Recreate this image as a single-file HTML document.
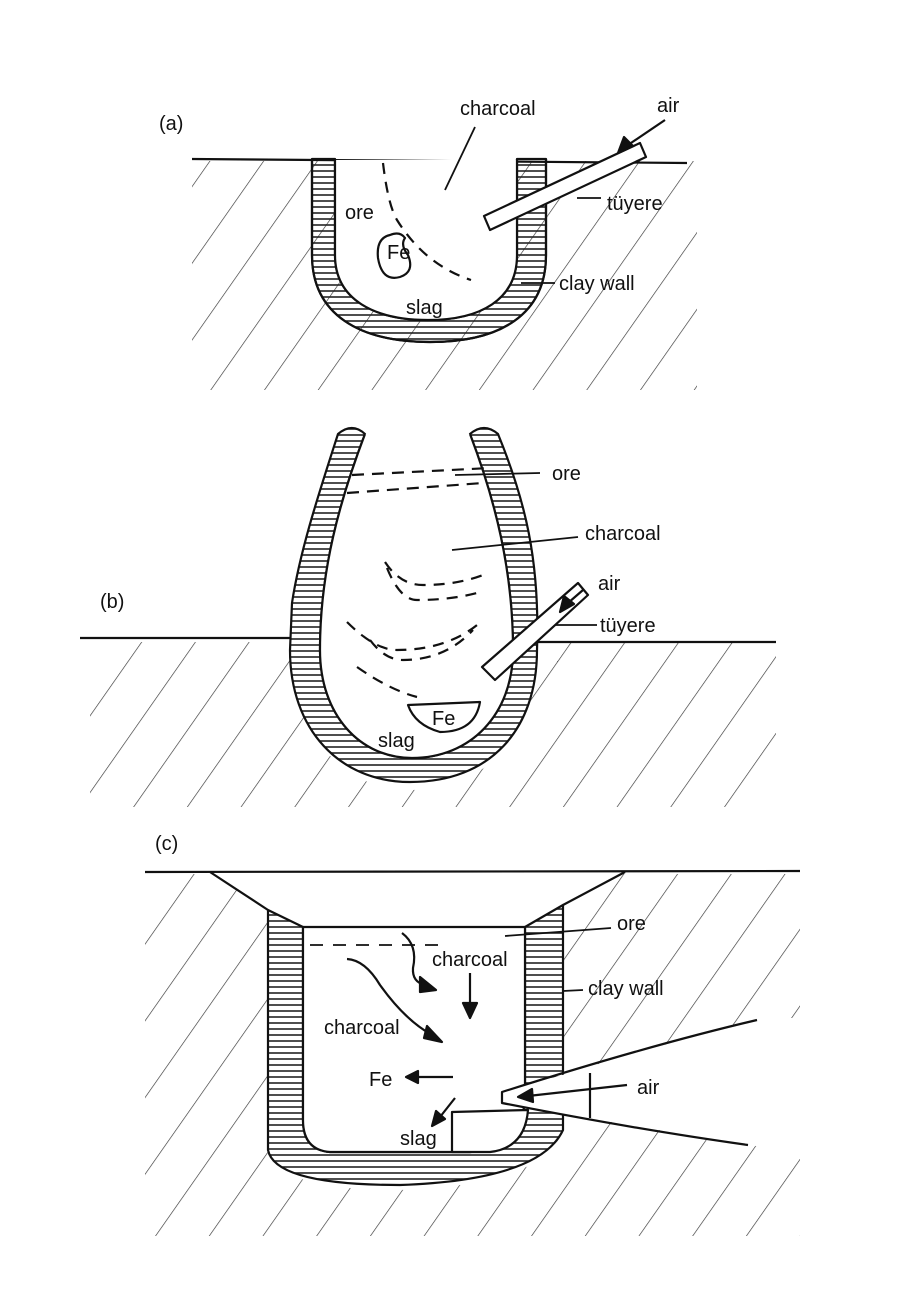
<!DOCTYPE html>
<html><head><meta charset="utf-8"><style>
html,body{margin:0;padding:0;background:#fff;}
svg{display:block}
text{font-family:"Liberation Sans",sans-serif;font-size:20px;fill:#111}
</style></head><body>
<svg width="900" height="1300" viewBox="0 0 900 1300" xmlns="http://www.w3.org/2000/svg">
<defs>
<pattern id="h" width="44" height="44" patternUnits="userSpaceOnUse" patternTransform="rotate(35)">
<line x1="0" y1="0" x2="0" y2="44" stroke="#333" stroke-width="1.3"/>
</pattern>
<pattern id="w" width="8" height="6" patternUnits="userSpaceOnUse">
<line x1="0" y1="3" x2="8" y2="3" stroke="#222" stroke-width="1.6"/>
</pattern>
</defs>
<g stroke="#111" stroke-width="2.2" fill="none" stroke-linejoin="round">

<!-- (a) -->
<rect x="192" y="161" width="505" height="229" fill="url(#h)" stroke="none"/>
<line x1="192" y1="159" x2="687" y2="163"/>
<path d="M312 159 L312 255 C312 315 360 342 430 342 C500 342 546 315 546 255 L546 159 L517 159 L517 255 C517 300 480 320 428 320 C375 320 335 300 335 255 L335 159Z" fill="url(#w)"/>
<path d="M335 160 L517 160 L517 255 C517 300 480 320 428 320 C375 320 335 300 335 255Z" fill="#fff" stroke="none"/>
<path d="M312 159 L312 255 C312 315 360 342 430 342 C500 342 546 315 546 255 L546 159 M517 159 L517 255 C517 300 480 320 428 320 C375 320 335 300 335 255 L335 159"/>
<path d="M484 216 L640 143 L646 157 L490 230Z" fill="#fff"/>
<line x1="665" y1="120" x2="628" y2="145"/>
<path d="M618 153 L624 137 L633 146Z" fill="#111"/>
<path d="M383 163 Q388 205 397 220 Q425 265 471 280" stroke-dasharray="11 8"/>
<path d="M390 235 Q376 238 378 258 Q382 282 400 277 Q415 272 408 255 Q400 245 405 238 Q400 231 390 235Z"/>
<line x1="475" y1="127" x2="445" y2="190" stroke-width="1.8"/>
<line x1="577" y1="198" x2="601" y2="198" stroke-width="1.8"/>
<line x1="521" y1="283" x2="555" y2="283" stroke-width="1.8"/>

<!-- (b) -->
<rect x="90" y="642" width="686" height="165" fill="url(#h)" stroke="none"/>
<path d="M290 640 C290 730 340 790 410 790 C490 790 540 730 537 640 Z" fill="#fff" stroke="none"/>
<line x1="80" y1="638" x2="291" y2="638"/>
<line x1="537" y1="642" x2="776" y2="642"/>
<path d="M338 434 C320 490 300 550 292 603 L290 650 C290 730 340 782 410 782 C490 782 537 730 537 650 C540 560 525 500 498 434 Q484 422 470 434 C495 500 513 570 513 650 C513 715 470 758 412 758 C360 758 320 715 320 650 C320 570 340 500 365 434 Q352 422 338 434Z" fill="url(#w)"/>
<path d="M470 434 C495 500 513 570 513 650 C513 715 470 758 412 758 C360 758 320 715 320 650 C320 570 340 500 365 434Z" fill="#fff" stroke="none"/>
<path d="M470 434 C495 500 513 570 513 650 C513 715 470 758 412 758 C360 758 320 715 320 650 C320 570 340 500 365 434"/>
<path d="M352 475 L490 468 M347 493 L483 483" stroke-dasharray="12 8"/>
<path d="M385 562 Q400 585 423 585 Q460 585 488 573 M387 568 Q400 600 417 600 Q450 600 477 593 M347 622 Q375 650 397 650 Q450 650 483 620 M370 640 Q385 660 403 660 Q445 660 473 630 M357 667 Q390 690 417 697" stroke-dasharray="11 8"/>
<path d="M482 667 L578 583 L588 595 L495 680Z" fill="#fff"/>
<line x1="583" y1="590" x2="568" y2="603"/>
<path d="M560 612 L564 596 L574 604Z" fill="#111"/>
<path d="M408 705 L480 702 Q475 732 440 732 Q415 725 408 705Z"/>
<line x1="455" y1="475" x2="540" y2="473" stroke-width="1.8"/>
<line x1="452" y1="550" x2="578" y2="537" stroke-width="1.8"/>
<line x1="555" y1="625" x2="597" y2="625" stroke-width="1.8"/>

<!-- (c) -->
<rect x="145" y="874" width="655" height="362" fill="url(#h)" stroke="none"/>
<path d="M210 872 L268 910 L268 1150 Q275 1190 400 1190 Q545 1185 563 1130 L563 905 L625 872Z" fill="#fff" stroke="none"/>
<path d="M502 1092 L757 1018 L805 1018 L805 1152 L748 1145 L510 1105Z" fill="#fff" stroke="none"/>
<line x1="145" y1="872" x2="800" y2="871"/>
<path d="M210 872 L268 910 M625 872 L563 905"/>
<path d="M268 910 L268 1150 Q275 1185 400 1185 Q540 1180 563 1130 L563 905 L525 927 L525 1100 Q520 1150 470 1152 L330 1152 Q303 1150 303 1120 L303 927 Z" fill="url(#w)"/>
<path d="M303 927 L525 927 L525 1100 Q520 1150 470 1152 L330 1152 Q303 1150 303 1120Z" fill="#fff"/>
<path d="M452 1112 L528 1110 Q525 1148 490 1152 L452 1152Z" fill="#fff"/>
<path d="M502 1092 L580 1070 L580 1118 L505 1104Z" fill="#fff" stroke="none"/>
<path d="M757 1020 Q650 1045 502 1092 L502 1103 Q640 1130 748 1145" />
<line x1="590" y1="1073" x2="590" y2="1118"/>
<path d="M310 945 L440 945" stroke-dasharray="13 10" stroke-width="1.8"/>
<line x1="505" y1="936" x2="611" y2="928" stroke-width="1.8"/>
<line x1="563" y1="991" x2="583" y2="990" stroke-width="1.8"/>
<line x1="627" y1="1085" x2="528" y2="1096"/>
<path d="M518 1097 L532 1089 L533 1102Z" fill="#111"/>
<path d="M402 933 Q418 945 413 968 Q412 982 425 985"/>
<path d="M420 977 L436 990 L420 992Z" fill="#111"/>
<line x1="470" y1="973" x2="470" y2="1005"/>
<path d="M463 1003 L477 1003 L470 1018Z" fill="#111"/>
<path d="M347 959 Q365 960 380 985 Q405 1020 432 1035"/>
<path d="M427 1026 L442 1042 L424 1038Z" fill="#111"/>
<line x1="453" y1="1077" x2="418" y2="1077"/>
<path d="M418 1071 L418 1083 L406 1077Z" fill="#111"/>
<line x1="455" y1="1098" x2="440" y2="1117"/>
<path d="M432 1126 L436 1111 L445 1119Z" fill="#111"/>
</g>
<text x="159" y="130">(a)</text>
<text x="460" y="115">charcoal</text>
<text x="657" y="112">air</text>
<text x="607" y="210">tüyere</text>
<text x="345" y="219">ore</text>
<text x="387" y="259" font-size="17">Fe</text>
<text x="406" y="314">slag</text>
<text x="559" y="290">clay wall</text>
<text x="100" y="608">(b)</text>
<text x="552" y="480">ore</text>
<text x="585" y="540">charcoal</text>
<text x="598" y="590">air</text>
<text x="600" y="632">tüyere</text>
<text x="432" y="725" font-size="12">Fe</text>
<text x="378" y="747">slag</text>
<text x="155" y="850">(c)</text>
<text x="617" y="930">ore</text>
<text x="432" y="966" font-size="18">charcoal</text>
<text x="588" y="995">clay wall</text>
<text x="324" y="1034" font-size="18">charcoal</text>
<text x="369" y="1086" font-size="18">Fe</text>
<text x="637" y="1094">air</text>
<text x="400" y="1145" font-size="16">slag</text>
</svg>
</body></html>
